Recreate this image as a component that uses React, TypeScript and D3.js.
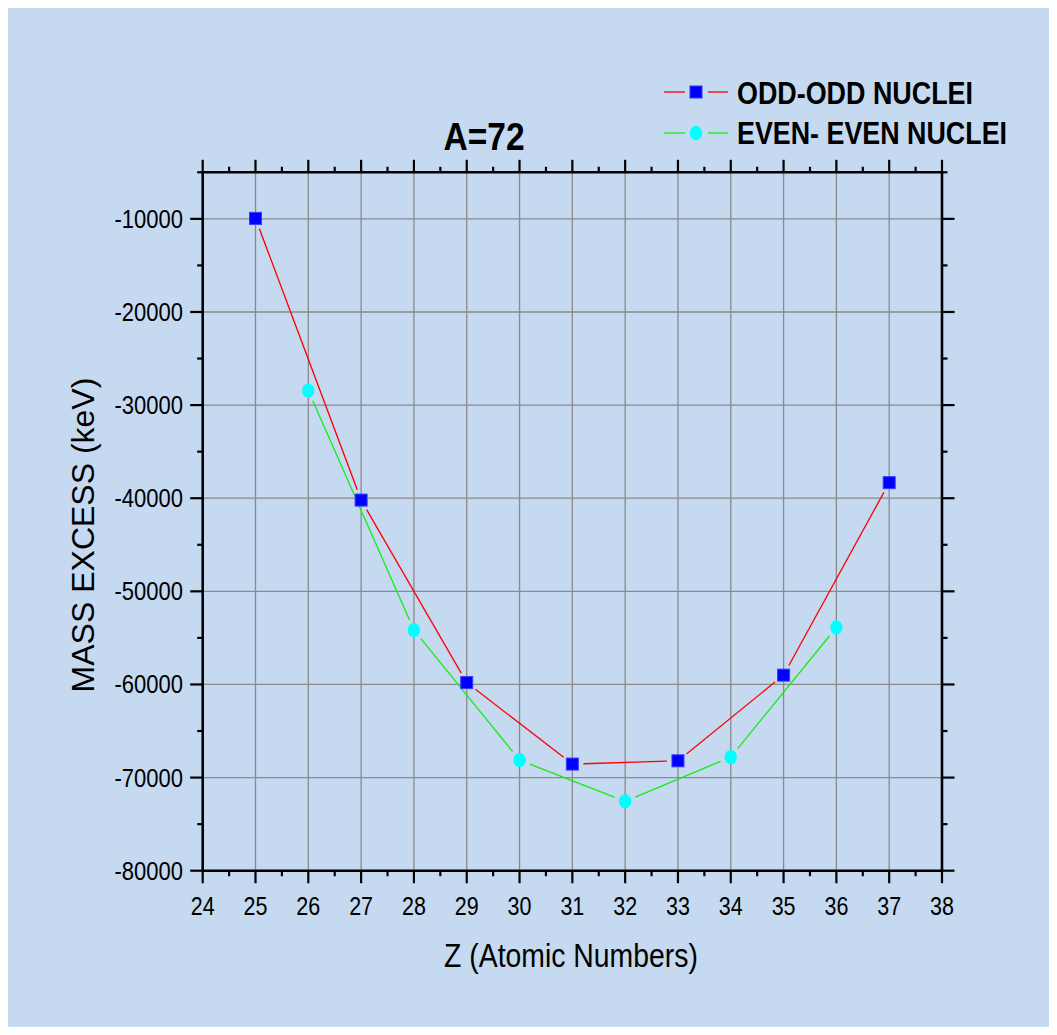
import React from "react";
import * as d3 from "d3";

const zOdd = [25, 27, 29, 31, 33, 35, 37];
const massOdd = [-9950, -40200, -59800, -68550, -68200, -59000, -38330];
const zEven = [26, 28, 30, 32, 34, 36];
const massEven = [-28450, -54170, -68120, -72550, -67800, -53880];
const xTicks = d3.range(24, 39, 1);
const xMinor = d3.range(24.5, 38, 1);
const yTicks = d3.range(-80000, -9999, 10000);
const yMinor = d3.range(-75000, -4999, 10000);
const title = "A=72";
const legendLabels = ["ODD-ODD NUCLEI", "EVEN- EVEN NUCLEI"];
const xLabel = "Z (Atomic Numbers)";
const yLabel = "MASS EXCESS (keV)";

const FONT = "'Liberation Sans', Arial, Helvetica, sans-serif";
const L = 202.7, R = 942, T = 172.3, B = 870.7;

function gappedSegments(pts: [number, number][], gap: number) {
  const segs: [number, number, number, number][] = [];
  for (let i = 0; i < pts.length - 1; i++) {
    const [x1, y1] = pts[i];
    const [x2, y2] = pts[i + 1];
    const dx = x2 - x1, dy = y2 - y1;
    const len = Math.hypot(dx, dy);
    if (len <= 2 * gap) continue;
    const ux = dx / len, uy = dy / len;
    segs.push([x1 + ux * gap, y1 + uy * gap, x2 - ux * gap, y2 - uy * gap]);
  }
  return segs;
}

export default function App() {
  const x = d3.scaleLinear().domain([24, 38]).range([L, R]);
  const y = d3.scaleLinear().domain([-80000, -5000]).range([B, T]);
  const oddPts = zOdd.map((z, i) => [x(z), y(massOdd[i])] as [number, number]);
  const evenPts = zEven.map((z, i) => [x(z), y(massEven[i])] as [number, number]);
  const oddSegs = gappedSegments(oddPts, 11);
  const evenSegs = gappedSegments(evenPts, 11);
  const axisCol = "#000";
  const gridCol = "#8a8a8a";
  const MJ = 12.5, MN = 5.5;

  return (
    <svg
      width={1049}
      height={1027}
      style={{ display: "block", marginBottom: -8, marginRight: -8 }}
      fontFamily={FONT}
    >
      <g transform="translate(-8,-8)">
        <rect x={8} y={8} width={1049} height={1027} fill="#c5d9f0" />
        {/* grid */}
        {xTicks.filter((t) => t > 24 && t < 38).map((t) => (
          <line key={"gx" + t} x1={x(t)} x2={x(t)} y1={T} y2={B} stroke={gridCol} strokeWidth={1.3} />
        ))}
        {yTicks.filter((t) => t > -80000).map((t) => (
          <line key={"gy" + t} x1={L} x2={R} y1={y(t)} y2={y(t)} stroke={gridCol} strokeWidth={1.3} />
        ))}
        {/* lines */}
        {oddSegs.map((s, i) => (
          <line key={"os" + i} x1={s[0]} y1={s[1]} x2={s[2]} y2={s[3]} stroke="#ff0000" strokeWidth={1.3} />
        ))}
        {evenSegs.map((s, i) => (
          <line key={"es" + i} x1={s[0]} y1={s[1]} x2={s[2]} y2={s[3]} stroke="#11ee11" strokeWidth={1.3} />
        ))}
        {/* markers */}
        {oddPts.map((p, i) => (
          <rect key={"om" + i} x={p[0] - 6} y={p[1] - 6} width={12} height={12} fill="#0000ff" stroke="#3a3aff" strokeWidth={1} />
        ))}
        {evenPts.map((p, i) => (
          <ellipse key={"em" + i} cx={p[0]} cy={p[1]} rx={6.2} ry={7.2} fill="#00ffff" />
        ))}
        {/* axes frame */}
        <g stroke={axisCol} strokeWidth={2.6} fill="none">
          <line x1={L} x2={L} y1={T} y2={B} />
          <line x1={R} x2={R} y1={T} y2={B} />
          <line x1={L} x2={R} y1={T} y2={T} />
          <line x1={L} x2={R} y1={B} y2={B} />
        </g>
        <g stroke={axisCol} strokeWidth={2.2}>
          {xTicks.map((t) => (
            <g key={"xt" + t}>
              <line x1={x(t)} x2={x(t)} y1={B} y2={B + MJ} />
              <line x1={x(t)} x2={x(t)} y1={T} y2={T - MJ} />
            </g>
          ))}
          {xMinor.map((t) => (
            <g key={"xm" + t}>
              <line x1={x(t)} x2={x(t)} y1={B} y2={B + MN} />
              <line x1={x(t)} x2={x(t)} y1={T} y2={T - MN} />
            </g>
          ))}
          {yTicks.map((t) => (
            <g key={"yt" + t}>
              <line x1={L} x2={L - MJ} y1={y(t)} y2={y(t)} />
              <line x1={R} x2={R + MJ} y1={y(t)} y2={y(t)} />
            </g>
          ))}
          {yMinor.map((t) => (
            <g key={"ym" + t}>
              <line x1={L} x2={L - MN} y1={y(t)} y2={y(t)} />
              <line x1={R} x2={R + MN} y1={y(t)} y2={y(t)} />
            </g>
          ))}
        </g>
        {/* tick labels */}
        {xTicks.map((t) => (
          <text key={"xl" + t} transform={`translate(${x(t)},${915}) scale(0.86,1)`} textAnchor="middle" fontSize={25} fill="#000">
            {t}
          </text>
        ))}
        {yTicks.map((t) => (
          <text key={"yl" + t} transform={`translate(${183},${y(t) + 9}) scale(0.88,1)`} textAnchor="end" fontSize={25} fill="#000">
            {t}
          </text>
        ))}
        {/* axis labels */}
        <text transform={`translate(${571},${967}) scale(0.86,1)`} textAnchor="middle" fontSize={33} fill="#000">
          {xLabel}
        </text>
        <text transform={`translate(${94},${535}) rotate(-90)`} textAnchor="middle" fontSize={32} fill="#000">
          {yLabel}
        </text>
        {/* title */}
        <text transform={`translate(${484},${150}) scale(0.86,1)`} textAnchor="middle" fontSize={39} fontWeight="bold" fill="#000">
          {title}
        </text>
        {/* legend */}
        <g>
          <line x1={664} x2={685} y1={92} y2={92} stroke="#ff0000" strokeWidth={1.3} />
          <line x1={708} x2={728} y1={92} y2={92} stroke="#ff0000" strokeWidth={1.3} />
          <rect x={690} y={86} width={12} height={12} fill="#0000ff" stroke="#3a3aff" strokeWidth={1} />
          <text x={737} y={103.5} fontSize={30.5} fontWeight="bold" textLength={236} lengthAdjust="spacingAndGlyphs" fill="#000">
            {legendLabels[0]}
          </text>
          <line x1={664} x2={685} y1={133} y2={133} stroke="#11ee11" strokeWidth={1.3} />
          <line x1={708} x2={728} y1={133} y2={133} stroke="#11ee11" strokeWidth={1.3} />
          <ellipse cx={696} cy={133} rx={6.2} ry={7.2} fill="#00ffff" />
          <text x={737} y={143.5} fontSize={30.5} fontWeight="bold" textLength={270} lengthAdjust="spacingAndGlyphs" fill="#000">
            {legendLabels[1]}
          </text>
        </g>
      </g>
    </svg>
  );
}
